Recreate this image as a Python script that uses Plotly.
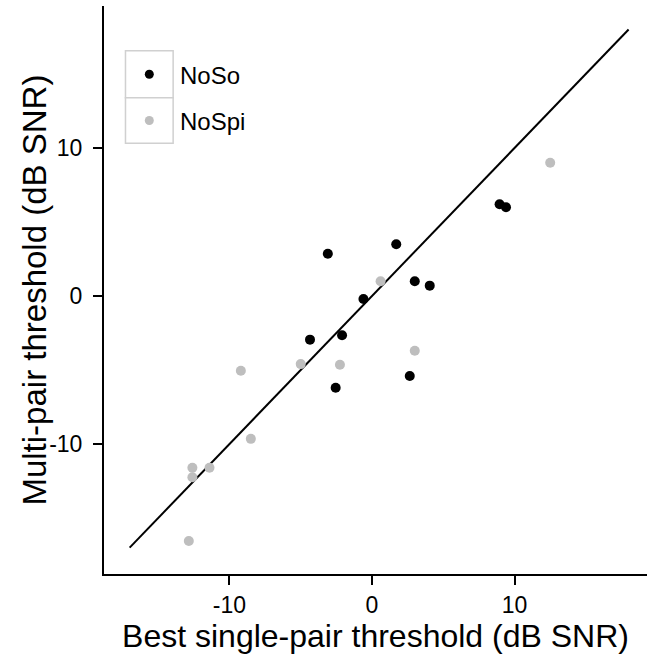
import plotly.graph_objects as go

# ---- data ----
noso_x = [-3.1, 1.7, 3.0, 4.05, -0.6, -4.35, -2.1, 2.65, -2.55, 8.95, 9.4]
noso_y = [2.85, 3.5, 1.0, 0.7, -0.2, -2.95, -2.65, -5.4, -6.2, 6.2, 6.0]
nospi_x = [0.6, -5.0, -2.25, 3.0, -9.2, -8.5, -12.6, -11.4, -12.6, -12.85, 12.5]
nospi_y = [1.0, -4.6, -4.65, -3.7, -5.05, -9.65, -11.6, -11.6, -12.25, -16.55, 9.0]
line_x = [-17, 18]
line_y = [-17, 18]
x_ticks = [-10, 0, 10]
y_ticks = [-10, 0, 10]
series_names = ["NoSo", "NoSpi"]
series_colors = ["#000000", "#BEBEBE"]
x_title = "Best single-pair threshold (dB SNR)"
y_title = "Multi-pair threshold (dB SNR)"

W, H = 647, 655
L, R, T, B = 103.5, 0, 6, 81
FONT = "Liberation Sans, Arial, sans-serif"

fig = go.Figure()
fig.add_trace(go.Scatter(x=line_x, y=line_y, mode="lines",
                         line=dict(color="black", width=2), showlegend=False,
                         hoverinfo="skip"))
fig.add_trace(go.Scatter(x=nospi_x, y=nospi_y, mode="markers", name=series_names[1],
                         marker=dict(color=series_colors[1], size=10, line=dict(width=0)),
                         showlegend=False))
fig.add_trace(go.Scatter(x=noso_x, y=noso_y, mode="markers", name=series_names[0],
                         marker=dict(color=series_colors[0], size=10, line=dict(width=0)),
                         showlegend=False))

pw = W - L - R
ph = H - T - B


def px2paper_x(px):
    return (px - L) / pw


def px2paper_y(py):
    return (H - B - py) / ph


# custom legend (boxed keys)
box_l, box_r, box_t, box_mid, box_b = 125, 172.7, 50.7, 97.7, 143.3
shapes = []
for (t, b) in [(box_t, box_mid), (box_mid, box_b)]:
    shapes.append(dict(type="rect", xref="paper", yref="paper",
                       x0=px2paper_x(box_l), x1=px2paper_x(box_r),
                       y0=px2paper_y(b), y1=px2paper_y(t),
                       line=dict(color="#D0D0D0", width=1.5), fillcolor="white"))
annotations = []
key_cy = [(box_t + box_mid) / 2, (box_mid + box_b) / 2]
cx = (box_l + box_r) / 2
rdot = 4.5
for name, col, cy in zip(series_names, series_colors, key_cy):
    shapes.append(dict(type="circle", xref="paper", yref="paper",
                       x0=px2paper_x(cx - rdot), x1=px2paper_x(cx + rdot),
                       y0=px2paper_y(cy + rdot), y1=px2paper_y(cy - rdot),
                       line=dict(width=0), fillcolor=col))
    annotations.append(dict(xref="paper", yref="paper",
                            x=px2paper_x(box_r + 5), y=px2paper_y(cy + 1),
                            xanchor="left", yanchor="middle", showarrow=False,
                            text=name, font=dict(family=FONT, size=24, color="black")))

# y-axis title as rotated annotation
annotations.append(dict(xref="paper", yref="paper",
                        x=px2paper_x(33), y=px2paper_y(290),
                        xanchor="center", yanchor="middle", showarrow=False,
                        textangle=-90, text=y_title,
                        font=dict(family=FONT, size=33, color="black")))

fig.update_layout(
    width=W, height=H,
    margin=dict(l=L, r=R, t=T, b=B, pad=0),
    paper_bgcolor="white", plot_bgcolor="white",
    font=dict(family=FONT, color="black"),
    shapes=shapes, annotations=annotations,
    xaxis=dict(range=[-18.8, 19.29], tickvals=x_ticks, ticktext=[str(v) for v in x_ticks],
               showgrid=False, zeroline=False, showline=True, linecolor="black", linewidth=2,
               ticks="outside", ticklen=9, tickwidth=2, tickcolor="black",
               tickfont=dict(family=FONT, size=23, color="black"),
               title=dict(text=x_title,
                          font=dict(family=FONT, size=32, color="black"), standoff=2)),
    yaxis=dict(range=[-18.78, 19.59], tickvals=y_ticks, ticktext=[str(v) for v in y_ticks],
               showgrid=False, zeroline=False, showline=True, linecolor="black", linewidth=2,
               ticks="outside", ticklen=9, tickwidth=2, tickcolor="black",
               tickfont=dict(family=FONT, size=23, color="black"),
               ticklabelstandoff=6),
)

fig.write_html("out.html")
